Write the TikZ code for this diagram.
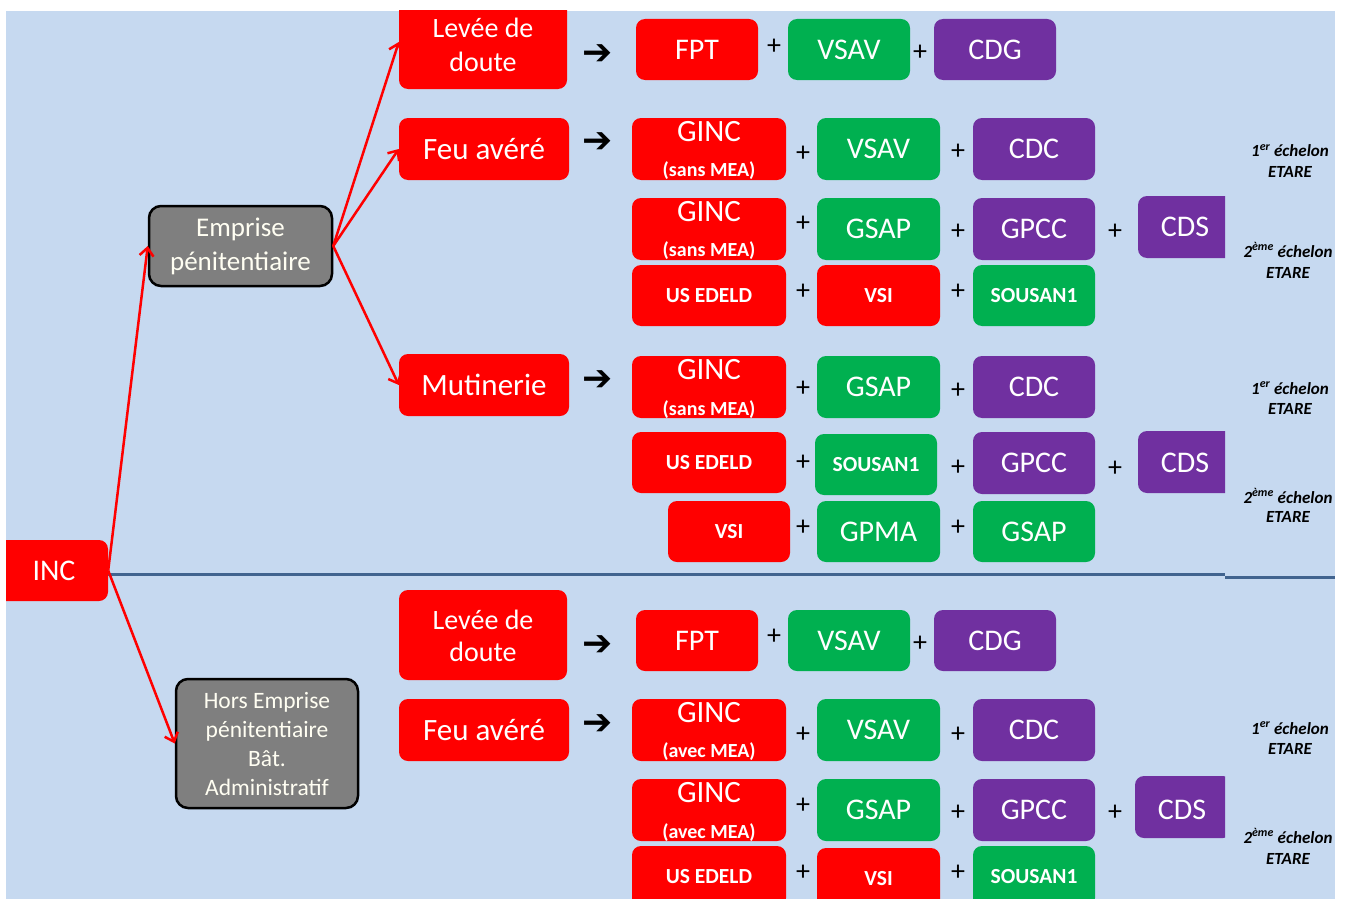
\documentclass[tikz,border=0pt]{standalone}
\usepackage{fontspec}
\setmainfont{Carlito}
\newfontfamily\djv{DejaVu Sans}
\usetikzlibrary{arrows.meta}
\definecolor{bgc}{HTML}{C6D9F0}
\definecolor{rc}{HTML}{FF0000}
\definecolor{gc}{HTML}{00B050}
\definecolor{pc}{HTML}{7030A0}
\definecolor{grc}{HTML}{7F7F7F}
\definecolor{lnc}{HTML}{41648F}
\newcommand\fsz[2]{\fontsize{#1}{#2}\selectfont}
\tikzset{
  box/.style={rounded corners=9pt, inner sep=0pt, text=white, align=center, font=\fsz{30}{34}},
  sz/.style 2 args={minimum width=#1, minimum height=#2},
  rbox/.style={box, fill=rc},
  gbox/.style={box, fill=gc},
  pbox/.style={box, fill=pc},
  sbox/.style={box, fill=rc, font=\fsz{21.5}{24}\bfseries},
  sgbox/.style={box, fill=gc, font=\fsz{21.5}{24}\bfseries},
  cat/.style={box, fill=grc, draw=black, line width=2.5pt, rounded corners=12pt, text=white!95!yellow},
  wt/.style={text=white, inner sep=0pt, font=\fsz{30}{34}},
  big/.style={font=\fsz{31}{34}},
  sub/.style={text=white, inner sep=0pt, font=\fsz{20}{24}\bfseries},
  pl/.style={text=black, inner sep=0pt, font=\fsz{28}{30}},
  blk/.style={text=black, inner sep=0pt, font=\djv\fsz{36}{40}},
  lab/.style={text=black, inner sep=0pt, font=\fsz{17}{20}\bfseries\itshape},
  conn/.style={draw=rc, line width=2.5pt, -{Straight Barb[length=8pt,width=14pt]}},
  sep/.style={draw=lnc, line width=3pt}
}
\begin{document}
\begin{tikzpicture}[x=1pt,y=-1pt]
\useasboundingbox (0,0) rectangle (1346,899);
\fill[white] (0,0) rectangle (1346,899);
\fill[bgc] (6,11) rectangle (1335,899);
\begin{scope}
\clip (6,11) rectangle (1335,899);
% separator
\coordinate (s0) at (108,574);
\coordinate (s1) at (1225,574);
\coordinate (s2) at (1225,577);
\coordinate (s3) at (1335,577);
\draw[sep] (s0) -- (s1);
\draw[sep] (s2) -- (s3);
% root
\node[rbox, sz={112}{61}] (INC) at (52,570.5) {};
\node[wt] (INCt) at (54,571) {INC};
% category boxes
\node[cat, sz={183}{80}, font=\fsz{27}{34}] (E) at (240.5,246) {Emprise\\pénitentiaire};
\node[cat, sz={182}{129}, font=\fsz{23.5}{29}] (H) at (267,743.5) {Hors Emprise\\pénitentiaire\\Bât.\\Administratif};

% ===== Emprise group =====
\node[rbox, sz={168}{94}] (L1) at (483,42) {};
\node[wt, font=\fsz{28}{30}] (L1a) at (483,28) {Levée de};
\node[wt, font=\fsz{28}{30}] (L1b) at (483,62) {doute};
\node[blk] (A1) at (598,55) {➔};
\node[rbox, sz={122}{61}] (FPT1) at (697,49.5) {FPT};
\node[pl] (p1) at (774,47) {+};
\node[gbox, sz={122}{61}] (VSAV1) at (849,49.5) {VSAV};
\node[pl] (p2) at (920,53) {+};
\node[pbox, sz={122}{61}] (CDG1) at (995,49.5) {CDG};

\node[rbox, sz={170}{62}, big] (F1) at (484,149) {Feu avéré};
\node[blk] (A2) at (598,143) {➔};
\node[rbox, sz={154}{62}] (G1) at (709,149) {};
\node[wt, big] (G1a) at (709,132) {GINC};
\node[sub] (G1b) at (709,171) {(sans MEA)};
\node[pl] (p3) at (803,154) {+};
\node[gbox, sz={123}{62}] (VSAV2) at (878.5,149) {VSAV};
\node[pl] (p4) at (958,152) {+};
\node[pbox, sz={122}{62}] (CDC1) at (1034,149) {CDC};
\node[lab] (lab1a) at (1290,151) {1\textsuperscript{er} échelon};
\node[lab] (lab1b) at (1290,172) {ETARE};

\node[rbox, sz={154}{62}] (G2) at (709,229) {};
\node[wt, big] (G2a) at (709,212) {GINC};
\node[sub] (G2b) at (709,251) {(sans MEA)};
\node[pl] (p5) at (803,224) {+};
\node[gbox, sz={123}{62}] (GSAP1) at (878.5,229) {GSAP};
\node[pl] (p6) at (958,232) {+};
\node[pbox, sz={122}{62}] (GPCC1) at (1034,229) {GPCC};
\node[pl] (p7) at (1115,232) {+};
\node[lab] (lab2a) at (1288,250) {2\textsuperscript{ème} échelon};
\node[lab] (lab2b) at (1288,273) {ETARE};

\node[sbox, sz={154}{61}] (U1) at (709,295.5) {US EDELD};
\node[pl] (p8) at (803,292) {+};
\node[sbox, sz={123}{61}] (VSI1) at (878.5,295.5) {VSI};
\node[pl] (p9) at (958,292) {+};
\node[sgbox, sz={122}{61}] (SOU1) at (1034,295.5) {SOUSAN1};

\node[rbox, sz={170}{62}, big] (M) at (484,385) {Mutinerie};
\node[blk] (A3) at (598,381) {➔};
\node[rbox, sz={154}{62}] (G3) at (709,387) {};
\node[wt, big] (G3a) at (709,370) {GINC};
\node[sub] (G3b) at (709,410) {(sans MEA)};
\node[pl] (p10) at (803,389) {+};
\node[gbox, sz={123}{62}] (GSAP2) at (878.5,387) {GSAP};
\node[pl] (p11) at (958,391) {+};
\node[pbox, sz={122}{62}] (CDC2) at (1034,387) {CDC};
\node[lab] (lab3a) at (1290,388) {1\textsuperscript{er} échelon};
\node[lab] (lab3b) at (1290,409) {ETARE};

\node[sbox, sz={154}{61}] (U2) at (709,462.5) {US EDELD};
\node[pl] (p12) at (803,463) {+};
\node[sgbox, sz={122}{61}] (SOU2) at (876,464.5) {SOUSAN1};
\node[pl] (p13) at (958,468) {+};
\node[pbox, sz={122}{62}] (GPCC2) at (1034,463) {GPCC};
\node[pl] (p14) at (1115,469) {+};
\node[lab] (lab4a) at (1288,496) {2\textsuperscript{ème} échelon};
\node[lab] (lab4b) at (1288,517) {ETARE};

\node[sbox, sz={122}{61}] (VSI2) at (729,531.5) {VSI};
\node[pl] (p15) at (803,528) {+};
\node[gbox, sz={123}{61}] (GPMA) at (878.5,531.5) {GPMA};
\node[pl] (p16) at (958,528) {+};
\node[gbox, sz={122}{61}] (GSAP3) at (1034,531.5) {GSAP};

% ===== Hors Emprise group =====
\node[rbox, sz={168}{90}] (L2) at (483,635) {};
\node[wt, font=\fsz{28}{30}] (L2a) at (483,620) {Levée de};
\node[wt, font=\fsz{28}{30}] (L2b) at (483,652) {doute};
\node[blk] (A4) at (598,646) {➔};
\node[rbox, sz={122}{61}] (FPT2) at (697,640.5) {FPT};
\node[pl] (p17) at (774,637) {+};
\node[gbox, sz={122}{61}] (VSAV3) at (849,640.5) {VSAV};
\node[pl] (p18) at (920,644) {+};
\node[pbox, sz={122}{61}] (CDG2) at (995,640.5) {CDG};

\node[rbox, sz={170}{62}, big] (F2) at (484,730) {Feu avéré};
\node[blk] (A5) at (598,725) {➔};
\node[rbox, sz={154}{62}] (G4) at (709,730) {};
\node[wt, big] (G4a) at (709,713) {GINC};
\node[sub] (G4b) at (709,752) {(avec MEA)};
\node[pl] (p19) at (803,735) {+};
\node[gbox, sz={123}{62}] (VSAV4) at (878.5,730) {VSAV};
\node[pl] (p20) at (958,735) {+};
\node[pbox, sz={122}{62}] (CDC3) at (1034,730) {CDC};
\node[lab] (lab5a) at (1290,728) {1\textsuperscript{er} échelon};
\node[lab] (lab5b) at (1290,749) {ETARE};

\node[rbox, sz={154}{62}] (G5) at (709,810) {};
\node[wt, big] (G5a) at (709,793) {GINC};
\node[sub] (G5b) at (709,833) {(avec MEA)};
\node[pl] (p21) at (803,806) {+};
\node[gbox, sz={123}{62}] (GSAP4) at (878.5,810) {GSAP};
\node[pl] (p22) at (958,813) {+};
\node[pbox, sz={122}{62}] (GPCC3) at (1034,810) {GPCC};
\node[pl] (p23) at (1115,813) {+};
\node[lab] (lab6a) at (1288,836) {2\textsuperscript{ème} échelon};
\node[lab] (lab6b) at (1288,859) {ETARE};

\node[sbox, sz={154}{61}] (U3) at (709,876.5) {US EDELD};
\node[pl] (p24) at (803,873) {+};
\node[sbox, sz={123}{61}] (VSI3) at (878.5,878.5) {VSI};
\node[pl] (p25) at (958,873) {+};
\node[sgbox, sz={122}{61}] (SOU3) at (1034,876.5) {SOUSAN1};

% CDS boxes, cut at the right
\begin{scope}
\clip (6,11) rectangle (1225,899);
\node[pbox, sz={97}{62}] (CDS1) at (1186.5,227) {};
\node[pbox, sz={97}{62}] (CDS2) at (1186.5,462) {};
\node[pbox, sz={97}{62}] (CDS3) at (1183.5,807) {};
\end{scope}
\node[wt] (CDS1t) at (1185,227) {CDS};
\node[wt] (CDS2t) at (1185,463) {CDS};
\node[wt] (CDS3t) at (1182,810) {CDS};

% connectors
\draw[conn] (INC.east) -- (E.west);
\draw[conn] (INC.east) -- (H.west);
\draw[conn] (E.east) -- (L1.west);
\draw[conn] (E.east) -- (F1.west);
\draw[conn] (E.east) -- (M.west);
\end{scope}
\end{tikzpicture}
\end{document}
